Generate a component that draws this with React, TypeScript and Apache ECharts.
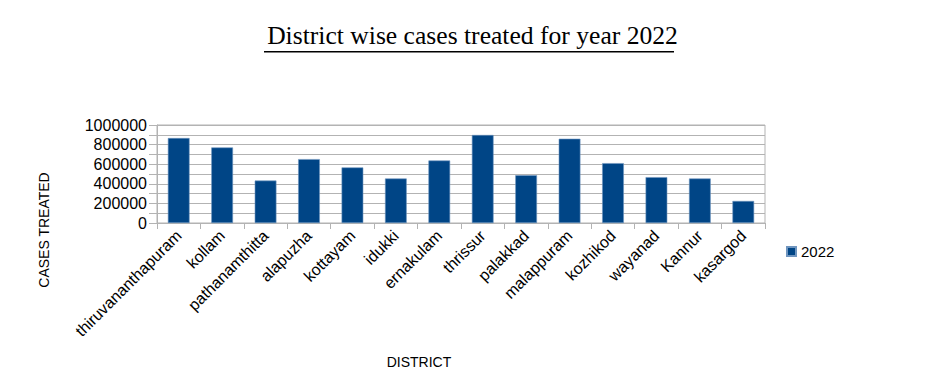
import React, { useEffect, useRef } from "react";
import * as echarts from "echarts";

const categories = [
  "thiruvananthapuram", "kollam", "pathanamthitta", "alapuzha", "kottayam", "idukki",
  "ernakulam", "thrissur", "palakkad", "malappuram", "kozhikod", "wayanad", "Kannur", "kasargod",
];
const values2022 = [867000, 771000, 433000, 652000, 567000, 454000, 638000, 898000, 488000, 860000, 611000, 468000, 454000, 225000];
const seriesName = "2022";
const titleText = "District wise cases treated for year 2022";
const yAxisTitle = "CASES TREATED";
const xAxisTitle = "DISTRICT";

export default function App() {
  const ref = useRef<HTMLDivElement>(null);
  useEffect(() => {
    if (!ref.current) return;
    const chart = echarts.init(ref.current, null, { renderer: "svg" });
    const font = "'Liberation Sans', Arial, sans-serif";
    chart.setOption({
      animation: false,
      backgroundColor: "#ffffff",
      title: {
        text: titleText,
        left: "center",
        top: 22,
        padding: 0,
        textStyle: { fontFamily: "'Liberation Serif', 'Times New Roman', serif", fontSize: 25.6, fontWeight: "normal", color: "#000" },
      },
      legend: {
        data: [seriesName],
        left: 781,
        top: 239,
        icon: "rect",
        itemWidth: 9,
        itemHeight: 9,
        itemGap: 6,
        textStyle: { fontFamily: font, fontSize: 15, color: "#000" },
      },
      grid: {
        left: 157,
        right: 180,
        top: 125,
        height: 98,
        show: true,
        borderColor: "#b3b3b3",
        borderWidth: 1,
      },
      xAxis: {
        type: "category",
        data: categories,
        axisLine: { lineStyle: { color: "#b3b3b3" } },
        axisTick: { show: true, length: 6, lineStyle: { color: "#b3b3b3" } },
        axisLabel: { rotate: 45, interval: 0, fontFamily: font, fontSize: 16, color: "#000", margin: 10 },
      },
      yAxis: {
        type: "value",
        min: 0,
        max: 1000000,
        interval: 100000,
        axisLine: { show: true, lineStyle: { color: "#b3b3b3" } },
        axisTick: { show: true, length: 8, lineStyle: { color: "#b3b3b3" } },
        splitLine: { show: true, lineStyle: { color: "#b3b3b3" } },
        axisLabel: {
          fontFamily: font,
          fontSize: 16,
          color: "#000",
          margin: 10,
          formatter: (v: number) => (Math.round(v) % 200000 === 0 ? String(v) : ""),
        },
      },
      series: [
        {
          name: seriesName,
          type: "bar",
          data: values2022,
          barWidth: "50%",
          itemStyle: { color: "#004586", borderColor: "#6f95bf", borderWidth: 0.6 },
        },
      ],
      graphic: [
        { type: "rect", shape: { x: 264, y: 51, width: 410, height: 1.5 }, style: { fill: "#000" } },
        {
          type: "text",
          x: 44,
          y: 230,
          rotation: Math.PI / 2,
          style: { text: yAxisTitle, fontFamily: font, fontSize: 14, fill: "#000", align: "center", verticalAlign: "middle" },
        },
        {
          type: "text",
          x: 419,
          y: 362,
          style: { text: xAxisTitle, fontFamily: font, fontSize: 14, fill: "#000", align: "center", verticalAlign: "middle" },
        },
      ],
    });
    return () => chart.dispose();
  }, []);
  return <div ref={ref} style={{ position: "fixed", left: 0, top: 0, width: 945, height: 371 }} />;
}
